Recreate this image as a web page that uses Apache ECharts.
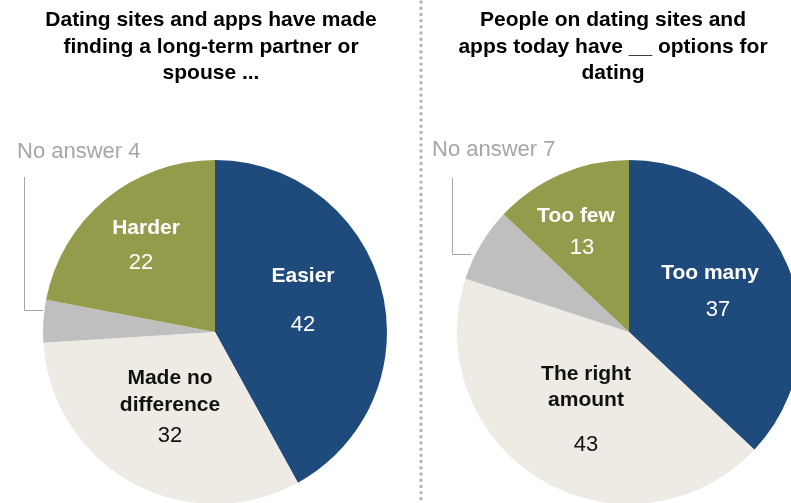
<!DOCTYPE html>
<html>
<head>
<meta charset="utf-8">
<script src="https://cdn.jsdelivr.net/npm/echarts@6/dist/echarts.min.js"></script>
<style>
  html, body { margin: 0; padding: 0; background: #ffffff; }
  #chart { width: 791px; height: 503px; }
</style>
</head>
<body>
<div id="chart"></div>
<script>
// Survey shares (%), listed clockwise from 12 o'clock
const leftTitle = 'Dating sites and apps have made\nfinding a long-term partner or\nspouse ...';
const leftNames = ['Easier', 'Made no\ndifference', 'No answer', 'Harder'];
const leftValues = [42, 32, 4, 22];

const rightTitle = 'People on dating sites and\napps today have __ options for\ndating';
const rightNames = ['Too many', 'The right\namount', 'No answer', 'Too few'];
const rightValues = [37, 43, 7, 13];

// Slice fills, by answer position
const sliceColors = ['#1f4a7c', '#edebe4', '#bfbfbf', '#949c4b'];
const labelColors = ['#ffffff', '#111111', '#a6a6a6', '#ffffff'];

// Label placement: x, top y, name line height, value line height, value x shift
const leftLabelPos = [
  { x: 303, y: 264.5, nlh: 24, vlh: 72, shift: 0 },
  { x: 170, y: 364.5, nlh: 27, vlh: 34, shift: 0 },
  { x: 17, y: 152, outside: true },
  { x: 146, y: 216, nlh: 24, vlh: 46, shift: -5 }
];
const rightLabelPos = [
  { x: 710, y: 261.5, nlh: 24, vlh: 49, shift: 8 },
  { x: 586, y: 361.5, nlh: 26, vlh: 63, shift: 0 },
  { x: 432, y: 150, outside: true },
  { x: 576, y: 204, nlh: 24, vlh: 40, shift: 6 }
];

const FONT = '"Liberation Sans", Arial, sans-serif';

function buildData(names, values, posList) {
  return names.map(function (name, i) {
    const pos = posList[i];
    const color = labelColors[i];
    let label;
    if (pos.outside) {
      label = {
        formatter: '{t|{b} {c}}',
        rich: { t: { fontFamily: FONT, fontSize: 22, color: color, lineHeight: 26 } }
      };
    } else {
      const pad = pos.shift > 0 ? [0, 0, 0, 2 * pos.shift] : [0, -2 * pos.shift, 0, 0];
      const nameLines = name.split('\n').map(function (s) { return '{n|' + s + '}'; }).join('\n');
      label = {
        formatter: nameLines + '\n{v|{c}}',
        rich: {
          n: { fontFamily: FONT, fontWeight: 'bold', fontSize: 21, lineHeight: pos.nlh, color: color },
          v: { fontFamily: FONT, fontSize: 22, lineHeight: pos.vlh, color: color, padding: pad }
        }
      };
    }
    return {
      name: name.replace('\n', ' '),
      value: values[i],
      itemStyle: { color: sliceColors[i] },
      label: label,
      labelLine: { show: false }
    };
  });
}

function pieSeries(names, values, posList, cx) {
  return {
    type: 'pie',
    center: [cx, 332],
    radius: 172,
    startAngle: 90,
    clockwise: true,
    avoidLabelOverlap: false,
    silent: true,
    emphasis: { disabled: true },
    label: { show: true, position: 'inside' },
    labelLine: { show: false },
    labelLayout: function (params) {
      const p = posList[params.dataIndex];
      return {
        x: p.x,
        y: p.y,
        align: p.outside ? 'left' : 'center',
        verticalAlign: p.outside ? 'middle' : 'top'
      };
    },
    data: buildData(names, values, posList)
  };
}

const chart = echarts.init(document.getElementById('chart'), null, { renderer: 'canvas' });

chart.setOption({
  backgroundColor: '#ffffff',
  animation: false,
  series: [
    pieSeries(leftNames, leftValues, leftLabelPos, 215),
    pieSeries(rightNames, rightValues, rightLabelPos, 629)
  ],
  graphic: [
    {
      type: 'text', x: 211, y: 7, z: 10,
      style: {
        text: leftTitle, fill: '#000000', font: 'bold 21px ' + FONT,
        textAlign: 'center', textVerticalAlign: 'top', lineHeight: 26.5
      }
    },
    {
      type: 'text', x: 613, y: 7, z: 10,
      style: {
        text: rightTitle, fill: '#000000', font: 'bold 21px ' + FONT,
        textAlign: 'center', textVerticalAlign: 'top', lineHeight: 26.5
      }
    },
    // dotted divider between the two panels
    {
      type: 'line', z: 5,
      shape: { x1: 421, y1: 2, x2: 421, y2: 503 },
      style: { stroke: '#b4b4b4', lineWidth: 3.4, lineDash: [0.01, 6.2], lineCap: 'round' }
    },
    // leader lines for the small "No answer" slices
    {
      type: 'polyline', z: 5,
      shape: { points: [[24.5, 177], [24.5, 310.5], [43, 310.5]] },
      style: { stroke: '#a6a6a6', lineWidth: 1, fill: null }
    },
    {
      type: 'polyline', z: 5,
      shape: { points: [[452.5, 178], [452.5, 254.5], [471, 254.5]] },
      style: { stroke: '#a6a6a6', lineWidth: 1, fill: null }
    }
  ]
});
</script>
</body>
</html>
